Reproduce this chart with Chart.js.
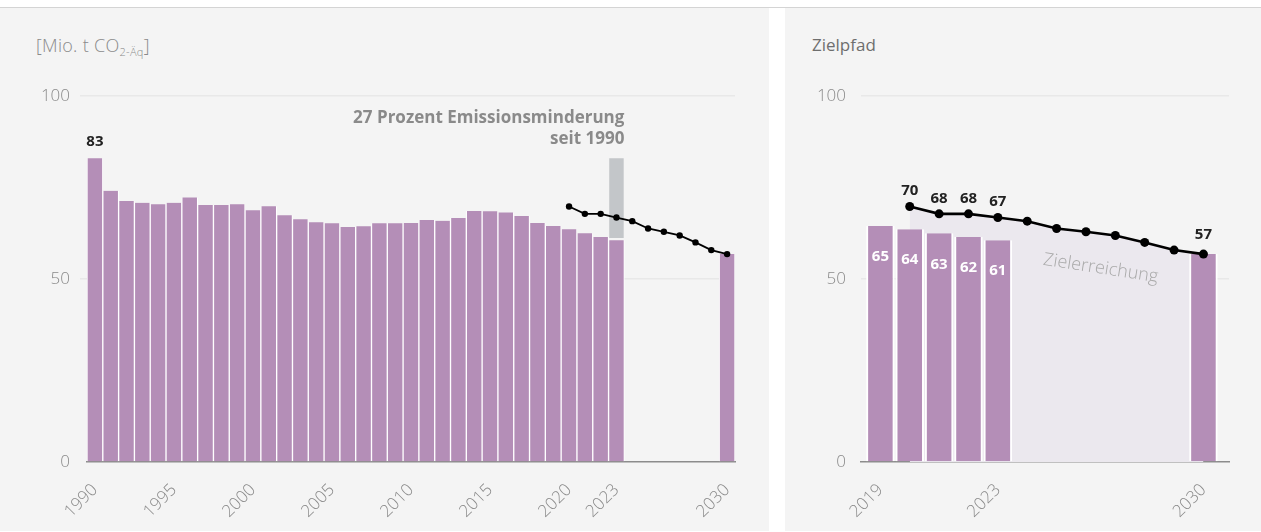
<!DOCTYPE html>
<html>
<head>
<meta charset="utf-8">
<script src="https://cdn.jsdelivr.net/npm/chart.js@4.4.0/dist/chart.umd.min.js"></script>
<style>
  body { margin: 0; width: 1261px; height: 532px; background: #fff; position: relative; overflow: hidden; font-family: "Open Sans", sans-serif; }
  .topline { position: absolute; left: 0; top: 7px; width: 1261px; height: 1px; background: #d4d4d4; }
  .panel { position: absolute; top: 8px; height: 523px; background: #f4f4f4; }
  .box { position: absolute; top: 0; height: 532px; }
  .title { position: absolute; color: #8a8a8a; white-space: nowrap; }
  .title sub { font-size: 11px; vertical-align: -4px; }
</style>
</head>
<body>
<div class="topline"></div>
<div class="panel" style="left:0;width:769px"></div>
<div class="panel" style="left:785px;width:476px"></div>
<div class="title" style="left:36px;top:33px;font-size:18px;font-weight:300;letter-spacing:0.3px">[Mio. t CO<sub>2-Äq</sub>]</div>
<div class="title" style="left:812px;top:33px;font-size:17px;font-weight:500;color:#6e6e6e">Zielpfad</div>
<div class="box" style="left:0;width:769px"><canvas id="left"></canvas></div>
<div class="box" style="left:785px;width:476px"><canvas id="right"></canvas></div>
<script>
const years = [1990, 1991, 1992, 1993, 1994, 1995, 1996, 1997, 1998, 1999,
  2000, 2001, 2002, 2003, 2004, 2005, 2006, 2007, 2008, 2009,
  2010, 2011, 2012, 2013, 2014, 2015, 2016, 2017, 2018, 2019,
  2020, 2021, 2022, 2023, 2024, 2025, 2026, 2027, 2028, 2029, 2030];
const emissions = [83.0, 74.1, 71.3, 70.8, 70.4, 70.8, 72.3, 70.2, 70.2, 70.4,
  68.8, 69.9, 67.4, 66.3, 65.5, 65.2, 64.2, 64.4, 65.2, 65.2,
  65.3, 66.1, 65.9, 66.7, 68.6, 68.5, 68.2, 67.2, 65.3, 64.5,
  63.6, 62.5, 61.5, 60.6, null, null, null, null, null, null, 56.8];
const leftTickYears = [1990, 1995, 2000, 2005, 2010, 2015, 2020, 2023, 2030];
const reductionYear = 2023;
const reductionRange = [61.2, 83];
const reductionText = ['27 Prozent Emissionsminderung', 'seit 1990'];

const targetYears = [2020, 2021, 2022, 2023, 2024, 2025, 2026, 2027, 2028, 2029, 2030];
const targetValues = [69.8, 67.8, 67.8, 66.8, 65.8, 63.8, 62.9, 61.9, 60.0, 57.9, 56.8];
const targetLabelYears = [2020, 2021, 2022, 2023, 2030];

const pathYears = [2019, 2020, 2021, 2022, 2023, 2030];
const pathValues = [64.5, 63.6, 62.5, 61.5, 60.6, 56.8];
const rightTickYears = [2019, 2023, 2030];
const areaLabel = 'Zielerreichung';

const PURPLE = '#b48eb7';
const GREY = '#8a8a8a';
const FONT = '"Open Sans", sans-serif';

Chart.defaults.font.family = FONT;
Chart.defaults.animation = false;

// --- left chart: emissions since 1990
const reductionData = years.map(y => y === reductionYear ? reductionRange : null);
const targetLeft = years.map(y => {
  const i = targetYears.indexOf(y);
  return i < 0 ? null : targetValues[i];
});

const leftLabels = {
  id: 'leftLabels',
  afterDatasetsDraw(chart) {
    const ctx = chart.ctx;
    const bars = chart.getDatasetMeta(0).data;
    const first = bars[0];
    ctx.save();
    ctx.font = `bold 15px ${FONT}`;
    ctx.fillStyle = '#222';
    ctx.textAlign = 'center';
    ctx.textBaseline = 'bottom';
    ctx.fillText(Math.round(emissions[0]), first.x, first.y - 9);

    const red = chart.getDatasetMeta(1).data[years.indexOf(reductionYear)];
    const right = red.x + red.width / 2;
    ctx.font = `bold 17px ${FONT}`;
    ctx.fillStyle = GREY;
    ctx.textAlign = 'right';
    ctx.textBaseline = 'alphabetic';
    ctx.fillText(reductionText[0], right, red.y - 35);
    ctx.fillText(reductionText[1], right, red.y - 14);
    ctx.restore();
  }
};

new Chart(document.getElementById('left'), {
  type: 'bar',
  data: {
    labels: years,
    datasets: [
      {
        data: emissions,
        backgroundColor: PURPLE,
        borderColor: '#fff',
        borderWidth: { left: 1, right: 1, top: 0, bottom: 0 },
        categoryPercentage: 1,
        barPercentage: 1,
        grouped: false,
        order: 2,
      },
      {
        data: reductionData,
        backgroundColor: '#c3c6c9',
        borderColor: '#f4f4f4',
        borderWidth: { left: 1, right: 1, top: 0, bottom: 0 },
        categoryPercentage: 1,
        barPercentage: 1,
        grouped: false,
        order: 2,
      },
      {
        type: 'line',
        data: targetLeft,
        borderColor: '#000',
        borderWidth: 1.8,
        pointRadius: 3.2,
        pointBackgroundColor: '#000',
        pointBorderWidth: 0,
        order: 0,
      },
    ],
  },
  options: {
    responsive: true,
    maintainAspectRatio: false,
    layout: { padding: { top: 96, right: 34, left: 0, bottom: 0 } },
    plugins: { legend: { display: false }, tooltip: { enabled: false } },
    scales: {
      x: {
        grid: { display: false },
        border: { color: '#8c8c8c', width: 1.5 },
        ticks: {
          autoSkip: false, maxRotation: 45, minRotation: 45,
          color: GREY, font: { size: 17, weight: 300 }, padding: 10,
          callback: (v, i) => leftTickYears.includes(years[i]) ? String(years[i]) : null,
        },
        afterFit: s => { s.height = 70; },
      },
      y: {
        min: 0, max: 100,
        ticks: { stepSize: 50, color: GREY, font: { size: 17, weight: 300 }, padding: 10 },
        grid: {
          color: c => c.tick.value === 0 ? 'transparent' : '#e8e8e8',
          lineWidth: 1.5, tickLength: 7,
        },
        border: { display: false },
        afterFit: s => { s.width = 87; },
      },
    },
  },
  plugins: [leftLabels],
});

// --- right chart: target path
const rightLabels = {
  id: 'rightLabels',
  afterDatasetsDraw(chart) {
    const ctx = chart.ctx;
    ctx.save();
    ctx.textAlign = 'center';
    ctx.font = `bold 15px ${FONT}`;

    // values inside bars
    ctx.fillStyle = '#fff';
    ctx.textBaseline = 'middle';
    chart.getDatasetMeta(1).data.forEach((bar, i) => {
      if (pathYears[i] === 2030) return;
      ctx.fillText(Math.round(pathValues[i]), bar.x, bar.y + 31);
    });

    // values above target points
    ctx.fillStyle = '#222';
    ctx.textBaseline = 'bottom';
    chart.getDatasetMeta(0).data.forEach((pt, i) => {
      if (!targetLabelYears.includes(targetYears[i])) return;
      const off = targetYears[i] === 2030 ? 12 : 8;
      ctx.fillText(Math.round(targetValues[i]), pt.x, pt.y - off);
    });

    // area label
    const xs = chart.scales.x, ys = chart.scales.y;
    ctx.translate(xs.getPixelForValue(2026.5), ys.getPixelForValue(52.9));
    ctx.rotate(8.7 * Math.PI / 180);
    ctx.font = `300 18px ${FONT}`;
    ctx.fillStyle = '#a9a9a9';
    ctx.textBaseline = 'middle';
    ctx.fillText(areaLabel, 0, 0);
    ctx.restore();
  }
};

new Chart(document.getElementById('right'), {
  type: 'bar',
  data: {
    datasets: [
      {
        type: 'line',
        data: targetYears.map((y, i) => ({ x: y, y: targetValues[i] })),
        borderColor: '#000',
        borderWidth: 2.6,
        pointRadius: 4.5,
        pointBackgroundColor: '#000',
        pointBorderWidth: 0,
        fill: 'origin',
        backgroundColor: '#ebe8ee',
        order: 0,
      },
      {
        data: pathYears.map((y, i) => ({ x: y, y: pathValues[i] })),
        backgroundColor: PURPLE,
        borderColor: '#fff',
        borderWidth: { left: 2, right: 2, top: 0, bottom: 0 },
        categoryPercentage: 0.97,
        barPercentage: 1,
        order: 2,
      },
    ],
  },
  options: {
    responsive: true,
    maintainAspectRatio: false,
    layout: { padding: { top: 96, right: 32, left: 0, bottom: 0 } },
    plugins: {
      legend: { display: false }, tooltip: { enabled: false },
      filler: { drawTime: 'beforeDatasetsDraw' },
    },
    scales: {
      x: {
        type: 'linear',
        offset: false,
        min: 2018.34, max: 2030.87,
        grid: { display: false },
        border: { color: '#8c8c8c', width: 1.5 },
        afterBuildTicks: s => { s.ticks = rightTickYears.map(v => ({ value: v })); },
        ticks: {
          autoSkip: false, maxRotation: 45, minRotation: 45,
          color: GREY, font: { size: 17, weight: 300 }, padding: 10,
          callback: v => String(v),
        },
        afterFit: s => { s.height = 70; },
      },
      y: {
        min: 0, max: 100,
        ticks: { stepSize: 50, color: GREY, font: { size: 17, weight: 300 }, padding: 15 },
        grid: {
          color: c => c.tick.value === 0 ? 'transparent' : '#e8e8e8',
          lineWidth: 1.5, drawTicks: false,
        },
        border: { display: false },
        afterFit: s => { s.width = 76; },
      },
    },
  },
  plugins: [rightLabels],
});
</script>
</body>
</html>
